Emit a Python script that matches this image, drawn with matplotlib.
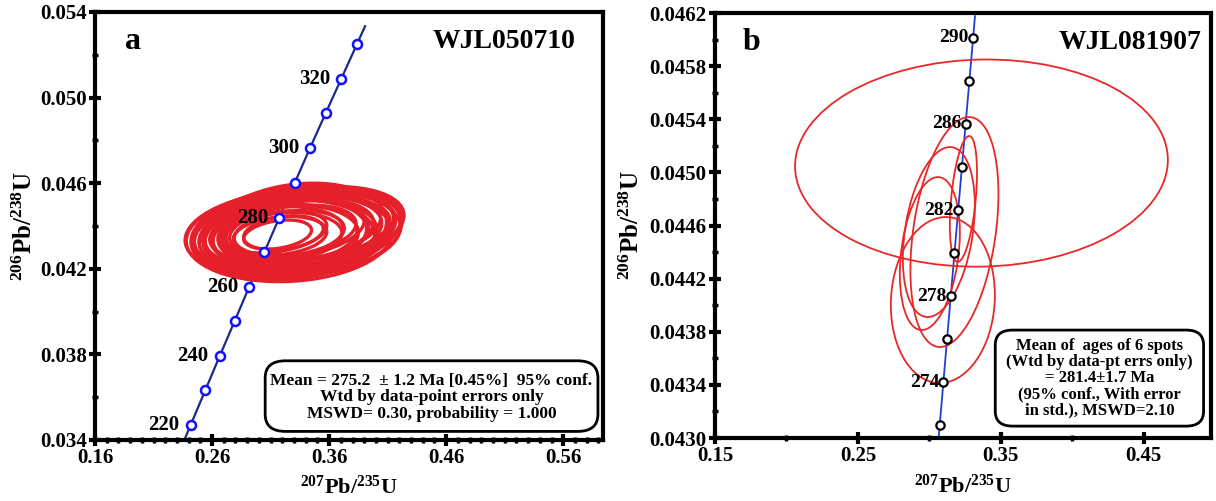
import numpy as np
import matplotlib.pyplot as plt
from matplotlib.patches import Ellipse, FancyBboxPatch
from matplotlib.transforms import Affine2D

plt.rcParams['font.family'] = ['Liberation Serif', 'DejaVu Serif']
plt.rcParams['font.weight'] = 'bold'
plt.rcParams['mathtext.fontset'] = 'custom'
plt.rcParams['mathtext.bf'] = 'Liberation Serif:bold'
plt.rcParams['mathtext.rm'] = 'Liberation Serif:bold'

# ---- panel a: concordia ticks (Ma) and ratios
ages_a = [220, 230, 240, 250, 260, 270, 280, 290, 300, 310, 320, 330]
x_conc_a = [0.2419, 0.2542, 0.2666, 0.2792, 0.2918, 0.3046, 0.3175, 0.3306, 0.3437, 0.3570, 0.3705, 0.3840]
y_conc_a = [0.03472, 0.03632, 0.03793, 0.03954, 0.04116, 0.04277, 0.04439, 0.04601, 0.04764, 0.04926, 0.05089, 0.05252]
labels_a = [220, 240, 260, 280, 300, 320]

# panel a error ellipses: centre x, centre y, sigma x, sigma y, rho
ell_x_a = [0.316, 0.321, 0.318, 0.314, 0.326, 0.320, 0.329, 0.315, 0.331, 0.322, 0.334, 0.319, 0.336,
           0.324, 0.333, 0.327, 0.340, 0.322, 0.338, 0.330, 0.342, 0.328, 0.335, 0.326, 0.332, 0.337,
           0.323, 0.339, 0.329, 0.331]
ell_y_a = [0.04360, 0.04368, 0.04355, 0.04372, 0.04366, 0.04350, 0.04378, 0.04362, 0.04384, 0.04358,
           0.04380, 0.04352, 0.04390, 0.04364, 0.04372, 0.04356, 0.04388, 0.04346, 0.04382, 0.04368,
           0.04392, 0.04360, 0.04376, 0.04350, 0.04370, 0.04386, 0.04356, 0.04380, 0.04364, 0.04374]
ell_sx_a = [0.029, 0.034, 0.040, 0.044, 0.047, 0.051, 0.054, 0.057, 0.059, 0.062, 0.064, 0.066, 0.068,
            0.070, 0.072, 0.074, 0.075, 0.077, 0.079, 0.081, 0.082, 0.084, 0.086, 0.088, 0.090, 0.085,
            0.069, 0.073, 0.092, 0.078]
ell_sy_a = [0.00068, 0.00080, 0.00090, 0.00098, 0.00106, 0.00114, 0.00120, 0.00128, 0.00134, 0.00140,
            0.00145, 0.00150, 0.00156, 0.00160, 0.00165, 0.00170, 0.00174, 0.00178, 0.00184, 0.00188,
            0.00192, 0.00198, 0.00204, 0.00210, 0.00218, 0.00196, 0.00168, 0.00150, 0.00206, 0.00226]
ell_rho_a = [0.30, 0.25, 0.20, 0.30, 0.22, 0.15, 0.28, 0.20, 0.30, 0.18, 0.25, 0.12, 0.30,
             0.20, 0.25, 0.15, 0.28, 0.10, 0.25, 0.22, 0.30, 0.15, 0.25, 0.10, 0.20, 0.28,
             0.18, 0.32, 0.15, 0.20]

# ---- panel b
ages_b = [272, 274, 276, 278, 280, 282, 284, 286, 288, 290]
x_conc_b = [0.30719, 0.30977, 0.31235, 0.31494, 0.31753, 0.32013, 0.32273, 0.32534, 0.32795, 0.33057]
y_conc_b = [0.043097, 0.043421, 0.043745, 0.044069, 0.044392, 0.044716, 0.045040, 0.045365, 0.045689, 0.046014]
labels_b = [274, 278, 282, 286, 290]

ell_x_b = [0.3364, 0.3175, 0.3238, 0.3066, 0.3003, 0.3094]
ell_y_b = [0.04507, 0.044551, 0.044800, 0.044551, 0.044389, 0.044039]
ell_sx_b = [0.1304, 0.0308, 0.0095, 0.0252, 0.0210, 0.0364]
ell_sy_b = [0.00078, 0.000866, 0.000474, 0.00064, 0.000576, 0.000625]
ell_rho_b = [0.03, 0.33, 0.42, 0.31, 0.27, 0.06]


def draw_ellipse(ax, x0, y0, sx, sy, rho, lw, color):
    # unit circle mapped through the covariance factor into data units
    m = Affine2D.from_values(sx, sy * rho, 0, sy * np.sqrt(1 - rho ** 2), x0, y0)
    e = Ellipse((0, 0), 2, 2, fill=False, edgecolor=color, linewidth=lw,
                transform=m + ax.transData, zorder=3)
    ax.add_patch(e)


def style_axes(ax):
    for s in ax.spines.values():
        s.set_linewidth(3)
    ax.tick_params(which='major', direction='inout', length=8, width=3, labelsize=15,
                   top=False, right=False, pad=2)
    ax.tick_params(which='minor', direction='inout', length=5, width=2.5, top=False, right=False)
    for lab in ax.get_xticklabels() + ax.get_yticklabels():
        lab.set_fontweight('bold')


def conc_line(ax, xs, ys, color, lw):
    xs = np.asarray(xs)
    ys = np.asarray(ys)
    # extend a little beyond the end ticks
    x_ext = np.concatenate([[xs[0] - 0.4 * (xs[1] - xs[0])], xs, [xs[-1] + 0.5 * (xs[-1] - xs[-2])]])
    y_ext = np.concatenate([[ys[0] - 0.4 * (ys[1] - ys[0])], ys, [ys[-1] + 0.5 * (ys[-1] - ys[-2])]])
    ax.plot(x_ext, y_ext, color=color, lw=lw, zorder=2)


fig = plt.figure(figsize=(12.16, 5.01), dpi=100)
ax1 = fig.add_axes([0.0781, 0.1218, 0.4178, 0.8543])
ax2 = fig.add_axes([0.588, 0.1257, 0.4079, 0.8483])

# panel a
conc_line(ax1, x_conc_a, y_conc_a, '#1a2a8c', 1.6)
for i in range(len(ell_x_a)):
    draw_ellipse(ax1, ell_x_a[i], ell_y_a[i], ell_sx_a[i], ell_sy_a[i], ell_rho_a[i], 2.4, '#e5202a')
ax1.plot(x_conc_a, y_conc_a, 'o', ms=6.5, mfc='white', mec='#1010ff', mew=1.8, zorder=4, ls='none')
for age, xv, yv in zip(ages_a, x_conc_a, y_conc_a):
    if age in labels_a:
        ax1.annotate(str(age), (xv, yv), xytext=(-8, 0), textcoords='offset points',
                     ha='right', va='center', fontsize=15, fontweight='bold', zorder=5)

ax1.set_xlim(0.16, 0.594)
ax1.set_ylim(0.034, 0.054)
ax1.set_xticks([0.16, 0.26, 0.36, 0.46, 0.56])
ax1.set_xticklabels(['0.16', '0.26', '0.36', '0.46', '0.56'])
ax1.set_xticks(np.arange(0.17, 0.594, 0.01), minor=True)
ax1.set_yticks([0.034, 0.038, 0.042, 0.046, 0.050, 0.054])
ax1.set_yticklabels(['0.034', '0.038', '0.042', '0.046', '0.050', '0.054'])
ax1.set_yticks([0.036, 0.040, 0.044, 0.048, 0.052], minor=True)
style_axes(ax1)
ax1.set_xlabel(r'$\mathbf{^{207}Pb/^{235}U}$', fontsize=16, labelpad=5)
ax1.set_ylabel(r'$\mathbf{^{206}Pb/^{238}U}$', fontsize=18, labelpad=2)
ax1.text(0.06, 0.93, 'a', transform=ax1.transAxes, fontsize=23, fontweight='bold', va='center')
ax1.text(0.945, 0.93, 'WJL050710', transform=ax1.transAxes, fontsize=20, fontweight='bold',
         ha='right', va='center')
box1 = FancyBboxPatch((0.335, 0.02), 0.655, 0.165, boxstyle='round,pad=0,rounding_size=0.04',
                      transform=ax1.transAxes, fc='white', ec='black', lw=2, zorder=6)
ax1.add_patch(box1)
ax1.text(0.6625, 0.10, 'Mean = 275.2  \u00b1 1.2 Ma [0.45%]  95% conf.\nWtd by data-point errors only\n'
         'MSWD= 0.30, probability = 1.000', transform=ax1.transAxes, ha='center', va='center',
         fontsize=12.5, fontweight='bold', linespacing=1.05, zorder=7)

# panel b
conc_line(ax2, x_conc_b, y_conc_b, '#1f3fd0', 1.3)
for i in range(len(ell_x_b)):
    draw_ellipse(ax2, ell_x_b[i], ell_y_b[i], ell_sx_b[i], ell_sy_b[i], ell_rho_b[i], 1.3, '#e82828')
ax2.plot(x_conc_b, y_conc_b, 'o', ms=6, mfc='white', mec='black', mew=1.6, zorder=4, ls='none')
for age, xv, yv in zip(ages_b, x_conc_b, y_conc_b):
    if age in labels_b:
        ax2.annotate(str(age), (xv, yv), xytext=(-3, 0), textcoords='offset points',
                     ha='right', va='center', fontsize=14, fontweight='bold', zorder=5)

ax2.set_xlim(0.15, 0.497)
ax2.set_ylim(0.0430, 0.0462)
ax2.set_xticks([0.15, 0.25, 0.35, 0.45])
ax2.set_xticklabels(['0.15', '0.25', '0.35', '0.45'])
ax2.set_xticks([0.20, 0.30, 0.40], minor=True)
yt = [0.0430, 0.0434, 0.0438, 0.0442, 0.0446, 0.0450, 0.0454, 0.0458, 0.0462]
ax2.set_yticks(yt)
ax2.set_yticklabels(['%.4f' % v for v in yt])
ax2.set_yticks([0.0432, 0.0436, 0.0440, 0.0444, 0.0448, 0.0452, 0.0456, 0.0460], minor=True)
style_axes(ax2)
ax2.set_xlabel(r'$\mathbf{^{207}Pb/^{235}U}$', fontsize=16, labelpad=6)
ax2.set_ylabel(r'$\mathbf{^{206}Pb/^{238}U}$', fontsize=18, labelpad=4)
ax2.text(0.055, 0.93, 'b', transform=ax2.transAxes, fontsize=23, fontweight='bold', va='center')
ax2.text(0.98, 0.93, 'WJL081907', transform=ax2.transAxes, fontsize=20, fontweight='bold',
         ha='right', va='center')
box2 = FancyBboxPatch((0.565, 0.028), 0.42, 0.226, boxstyle='round,pad=0,rounding_size=0.035',
                      transform=ax2.transAxes, fc='white', ec='black', lw=2, zorder=6)
ax2.add_patch(box2)
ax2.text(0.775, 0.141, 'Mean of  ages of 6 spots\n(Wtd by data-pt errs only)\n= 281.4\u00b11.7 Ma\n'
         '(95% conf., With error\nin std.), MSWD=2.10', transform=ax2.transAxes, ha='center',
         va='center', fontsize=12, fontweight='bold', linespacing=1.0, zorder=7)

fig.savefig('out.png', dpi=100)
